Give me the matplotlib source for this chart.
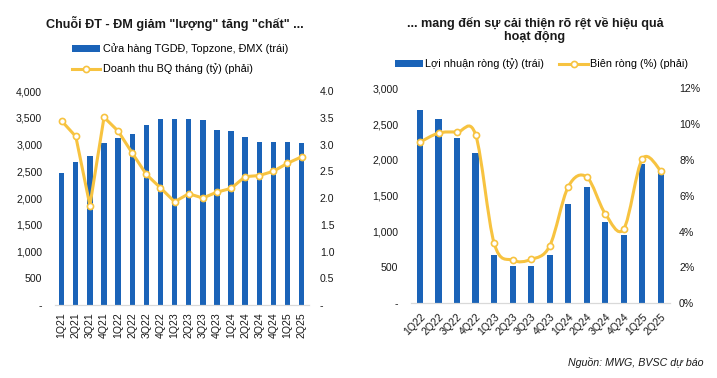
"""MWG: chuỗi ĐT-ĐM — số cửa hàng / doanh thu BQ và lợi nhuận / biên ròng theo quý."""

import matplotlib

matplotlib.use("Agg")
import matplotlib.pyplot as plt
import numpy as np
from matplotlib.patches import PathPatch
from matplotlib.path import Path
from matplotlib.ticker import FuncFormatter, MultipleLocator

plt.rcParams["font.family"] = ["Liberation Sans", "DejaVu Sans"]

# --- dữ liệu biểu đồ trái ---
quarters_left = [
    "1Q21", "2Q21", "3Q21", "4Q21", "1Q22", "2Q22", "3Q22", "4Q22", "1Q23",
    "2Q23", "3Q23", "4Q23", "1Q24", "2Q24", "3Q24", "4Q24", "1Q25", "2Q25",
]
stores = [
    2460, 2670, 2780, 3020, 3130, 3190, 3360, 3470, 3480,
    3470, 3450, 3270, 3250, 3140, 3050, 3040, 3040, 3030,
]
rev_per_month = [
    3.44, 3.15, 1.86, 3.51, 3.25, 2.84, 2.44, 2.19, 1.93,
    2.08, 2.00, 2.11, 2.18, 2.40, 2.42, 2.50, 2.65, 2.77,
]

# --- dữ liệu biểu đồ phải ---
quarters_right = [
    "1Q22", "2Q22", "3Q22", "4Q22", "1Q23", "2Q23", "3Q23",
    "4Q23", "1Q24", "2Q24", "3Q24", "4Q24", "1Q25", "2Q25",
]
net_profit = [2700, 2570, 2300, 2100, 680, 520, 515, 680, 1390, 1620, 1130, 950, 1950, 1820]
net_margin = [9.0, 9.5, 9.55, 9.4, 3.35, 2.4, 2.45, 3.2, 6.5, 7.05, 5.0, 4.15, 8.05, 7.4]

BLUE = "#1A63B8"
GOLD = "#F7C340"
TEXT = "#1a1a1a"
FS = 7.6
LEG_FS = 7.8


def dash_zero(fmt):
    return FuncFormatter(lambda v, _: "-" if abs(v) < 1e-9 else fmt.format(v))


def smooth_path(xs, ys):
    """Đường cong kiểu Excel (Catmull-Rom -> Bezier) đi qua đúng các điểm dữ liệu."""
    p = np.column_stack([xs, ys]).astype(float)
    n = len(p)
    verts = [p[0]]
    codes = [Path.MOVETO]
    for i in range(n - 1):
        p0 = p[max(i - 1, 0)]
        p1, p2 = p[i], p[i + 1]
        p3 = p[min(i + 2, n - 1)]
        verts += [p1 + (p2 - p0) / 6, p2 - (p3 - p1) / 6, p2]
        codes += [Path.CURVE4] * 3
    return Path(verts, codes)


def style_axes(ax, ax2):
    for a in (ax, ax2):
        for s in ("top", "left", "right"):
            a.spines[s].set_visible(False)
        a.spines["bottom"].set_color("#D9D9D9")
        a.tick_params(length=0, labelsize=FS, colors=TEXT)


fig = plt.figure(figsize=(7.17, 3.78), dpi=100)

# ================= trái =================
ax = fig.add_axes([0.0762, 0.1931, 0.3543, 0.5661])
ax2 = ax.twinx()
x = np.arange(len(quarters_left))
bars = ax.bar(x, stores, width=0.38, color=BLUE, label="Cửa hàng TGDĐ, Topzone, ĐMX (trái)")
(line,) = ax2.plot(
    x, rev_per_month, color=GOLD, lw=2.2, marker="o", ms=4.4,
    mfc="white", mec=GOLD, mew=1.2, label="Doanh thu BQ tháng (tỷ) (phải)",
)
ax.set_xlim(-0.5, len(x) - 0.5)
ax.set_ylim(0, 4000)
ax2.set_ylim(0, 4)
ax.yaxis.set_major_locator(MultipleLocator(500))
ax2.yaxis.set_major_locator(MultipleLocator(0.5))
ax.yaxis.set_major_formatter(dash_zero("{:,.0f}"))
ax2.yaxis.set_major_formatter(dash_zero("{:.1f}"))
ax.set_xticks(x)
ax.set_xticklabels(quarters_left, rotation=90)
style_axes(ax, ax2)
ax.tick_params(axis="y", pad=9)
ax2.tick_params(axis="y", pad=8)
ax.tick_params(axis="x", pad=5)

fig.text(0.244, 0.937, 'Chuỗi ĐT - ĐM giảm "lượng" tăng "chất" ...',
         ha="center", va="center", fontsize=9.1, fontweight="bold", color=TEXT)
fig.legend([bars, line], [bars.get_label(), line.get_label()],
           loc="upper left", bbox_to_anchor=(0.1, 0.885), ncol=1, frameon=False,
           fontsize=LEG_FS, handlelength=2.6, handletextpad=0.25, labelspacing=0.85,
           borderaxespad=0, borderpad=0)

# ================= phải =================
bx = fig.add_axes([0.5730, 0.1976, 0.3615, 0.5688])
bx2 = bx.twinx()
xr = np.arange(len(quarters_right))
bars_r = bx.bar(xr, net_profit, width=0.34, color=BLUE, label="Lợi nhuận ròng (tỷ) (trái)")
bx2.add_patch(PathPatch(smooth_path(xr, net_margin), fc="none", ec=GOLD, lw=2.2, zorder=3))
(mk,) = bx2.plot(xr, net_margin, ls="none", marker="o", ms=4.4, mfc="white",
                 mec=GOLD, mew=1.2, zorder=4)
bx.set_xlim(-0.5, len(xr) - 0.5)
bx.set_ylim(0, 3000)
bx2.set_ylim(0, 12)
bx.yaxis.set_major_locator(MultipleLocator(500))
bx2.yaxis.set_major_locator(MultipleLocator(2))
bx.yaxis.set_major_formatter(dash_zero("{:,.0f}"))
bx2.yaxis.set_major_formatter(FuncFormatter(lambda v, _: f"{v:.0f}%"))
bx.set_xticks(xr)
bx.set_xticklabels(quarters_right, rotation=45, ha="right", rotation_mode="anchor")
style_axes(bx, bx2)
bx.tick_params(axis="y", pad=9)
bx2.tick_params(axis="y", pad=6.5)
bx.tick_params(axis="x", pad=6)

fig.text(0.746, 0.921, "... mang đến sự cải thiện rõ rệt về hiệu quả\nhoạt động",
         ha="center", va="center", fontsize=9.1, fontweight="bold", color=TEXT,
         linespacing=1.05)
legend_line = plt.Line2D([], [], color=GOLD, lw=2.2, marker="o", ms=4.4,
                         mfc="white", mec=GOLD, mew=1.2)
fig.legend([bars_r, legend_line], [bars_r.get_label(), "Biên ròng (%) (phải)"],
           loc="center left", bbox_to_anchor=(0.551, 0.831), ncol=2, frameon=False,
           fontsize=LEG_FS, handlelength=2.6, handletextpad=0.2, columnspacing=1.4,
           borderaxespad=0, borderpad=0)

fig.text(0.981, 0.042, "Nguồn: MWG, BVSC dự báo", ha="right", va="center",
         fontsize=7.7, style="italic", color=TEXT)

fig.savefig("out.png", dpi=100)
